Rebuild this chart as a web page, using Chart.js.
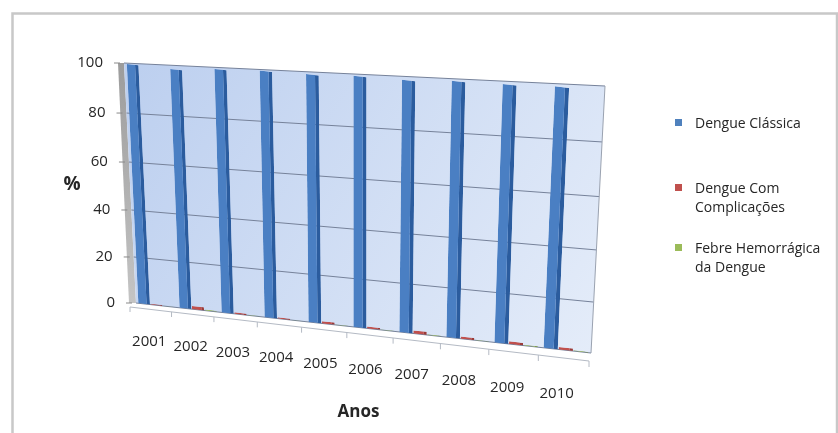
<!DOCTYPE html>
<html>
<head>
<meta charset="utf-8">
<script src="https://cdn.jsdelivr.net/npm/chart.js@4.4.1/dist/chart.umd.min.js"></script>
<style>
  html, body { margin: 0; padding: 0; background: #ffffff; }
  canvas { display: block; }
</style>
</head>
<body>
<canvas id="grafico" width="838" height="433"></canvas>
<script>
// Distribuição percentual dos casos de dengue por forma clínica, 2001-2010
const anos = ['2001', '2002', '2003', '2004', '2005', '2006', '2007', '2008', '2009', '2010'];
const dengueClassica = [99.5, 98.3, 99.2, 99.4, 98.9, 99.1, 98.5, 99.0, 98.7, 98.8];
const dengueComplicacoes = [0.4, 1.3, 0.6, 0.5, 0.9, 0.7, 1.2, 0.8, 1.0, 0.9];
const febreHemorragica = [0.1, 0.4, 0.2, 0.1, 0.2, 0.2, 0.3, 0.2, 0.3, 0.3];
const yTicks = [0, 20, 40, 60, 80, 100];
const nomesSeries = ['Dengue Clássica', 'Dengue Com Complicações', 'Febre Hemorrágica da Dengue'];
const legendaLinhas = [['Dengue Clássica'], ['Dengue Com', 'Complicações'], ['Febre Hemorrágica', 'da Dengue']];
const cores = ['#4A7FC3', '#C0504D', '#9BBB59'];

// Parede de fundo em perspectiva (cantos: sup. esq., sup. dir., inf. dir., inf. esq.)
const PAREDE = [[124, 63], [605, 86], [591, 353], [136, 303]];

function homografia(q) {
  const [x0, y0] = q[0], [x1, y1] = q[1], [x2, y2] = q[2], [x3, y3] = q[3];
  const dx1 = x1 - x2, dx2 = x3 - x2, dy1 = y1 - y2, dy2 = y3 - y2;
  const sx = x0 - x1 + x2 - x3, sy = y0 - y1 + y2 - y3;
  const den = dx1 * dy2 - dx2 * dy1;
  const g = (sx * dy2 - dx2 * sy) / den;
  const h = (dx1 * sy - sx * dy1) / den;
  const a = x1 - x0 + g * x1, b = x3 - x0 + h * x3, c = x0;
  const d = y1 - y0 + g * y1, e = y3 - y0 + h * y3, f = y0;
  return (u, v) => {
    const w = g * u + h * v + 1;
    return { x: (a * u + b * v + c) / w, y: (d * u + e * v + f) / w };
  };
}
const H = homografia(PAREDE);

function projetor(chart) {
  const ca = chart.chartArea;
  return (x, y) => H((x - ca.left) / (ca.right - ca.left), (y - ca.top) / (ca.bottom - ca.top));
}

const fonteEixo = '15px "Open Sans", "Liberation Sans", sans-serif';
const corTexto = '#262626';

const perspectiva = {
  id: 'perspectiva',
  beforeDraw(chart) {
    const ctx = chart.ctx;
    ctx.save();
    ctx.fillStyle = '#ffffff';
    ctx.fillRect(0, 0, chart.width, chart.height);
    ctx.strokeStyle = '#c8c8c8';
    ctx.lineWidth = 2.5;
    ctx.strokeRect(12.5, 13.5, 824.5, 440);
    ctx.restore();
  },
  beforeDatasetsDraw(chart) {
    const ctx = chart.ctx;
    const ca = chart.chartArea;
    const P = projetor(chart);
    const xs = chart.scales.x, ys = chart.scales.y;
    const tl = P(ca.left, ca.top), tr = P(ca.right, ca.top);
    const br = P(ca.right, ca.bottom), bl = P(ca.left, ca.bottom);

    ctx.save();
    // face lateral da parede
    const gLat = ctx.createLinearGradient(0, tl.y, 0, bl.y);
    gLat.addColorStop(0, '#9c9c9c');
    gLat.addColorStop(1, '#c4c4c4');
    ctx.fillStyle = gLat;
    ctx.beginPath();
    ctx.moveTo(tl.x - 6, tl.y);
    ctx.lineTo(tl.x, tl.y);
    ctx.lineTo(bl.x, bl.y);
    ctx.lineTo(bl.x - 7, bl.y);
    ctx.closePath();
    ctx.fill();

    // parede de fundo
    const gPar = ctx.createLinearGradient(tl.x, tl.y, br.x, br.y);
    gPar.addColorStop(0, '#bccfef');
    gPar.addColorStop(1, '#e4ecf9');
    ctx.fillStyle = gPar;
    ctx.beginPath();
    ctx.moveTo(tl.x, tl.y);
    ctx.lineTo(tr.x, tr.y);
    ctx.lineTo(br.x, br.y);
    ctx.lineTo(bl.x, bl.y);
    ctx.closePath();
    ctx.fill();

    // linhas de grade
    ctx.strokeStyle = '#76829a';
    ctx.lineWidth = 1;
    ys.ticks.forEach(t => {
      const y = ys.getPixelForValue(t.value);
      const a = P(ca.left, y), b = P(ca.right, y);
      ctx.beginPath();
      ctx.moveTo(a.x, a.y);
      ctx.lineTo(b.x, b.y);
      ctx.stroke();
    });
    ctx.strokeStyle = '#9aa2b0';
    ctx.beginPath();
    ctx.moveTo(tr.x, tr.y);
    ctx.lineTo(br.x, br.y);
    ctx.stroke();

    // borda frontal do piso
    ctx.strokeStyle = '#b4bac4';
    ctx.beginPath();
    ctx.moveTo(bl.x - 6, bl.y + 4);
    ctx.lineTo(br.x - 2, br.y + 8);
    ctx.stroke();
    const n = anos.length;
    const larg = (ca.right - ca.left) / n;
    for (let i = 0; i <= n; i++) {
      const p = P(ca.left + i * larg, ca.bottom);
      const k = i / n;
      ctx.beginPath();
      ctx.moveTo(p.x - 6 + 4 * k, p.y + 4 + 4 * k);
      ctx.lineTo(p.x - 6 + 4 * k, p.y + 9 + 5 * k);
      ctx.stroke();
    }

    // rótulos do eixo Y com marcas
    ctx.font = fonteEixo;
    ctx.fillStyle = corTexto;
    ctx.textAlign = 'right';
    ctx.textBaseline = 'middle';
    ctx.strokeStyle = '#8a8a8a';
    ys.ticks.forEach(t => {
      const y = ys.getPixelForValue(t.value);
      const p = P(ca.left, y);
      ctx.fillText(String(t.value), p.x - 21, p.y);
      ctx.beginPath();
      ctx.moveTo(p.x - 10, p.y);
      ctx.lineTo(p.x - 4, p.y);
      ctx.stroke();
    });

    // rótulos do eixo X (anos) ao longo do piso
    ctx.textAlign = 'center';
    anos.forEach((ano, i) => {
      const xf = xs.getPixelForValue(i) - 0.2 * larg;
      const u = (xf - ca.left) / (ca.right - ca.left);
      const p = P(xf, ca.bottom);
      ctx.fillText(ano, p.x + 1, p.y + 37 + 8 * u);
    });

    // barras desenhadas pelos próprios elementos do Chart.js, em perspectiva
    chart.data.datasets.forEach((ds, di) => {
      const meta = chart.getDatasetMeta(di);
      if (meta.hidden) return;
      meta.data.forEach(el => {
        const x0 = el.x;
        const p0 = P(x0, ca.bottom), p1 = P(x0 + 1, ca.bottom), p2 = P(x0, ca.top);
        const hgt = ca.top - ca.bottom;
        const a = p1.x - p0.x, b = p1.y - p0.y;
        const c = (p2.x - p0.x) / hgt, d = (p2.y - p0.y) / hgt;
        const e = p0.x - a * x0 - c * ca.bottom;
        const f = p0.y - b * x0 - d * ca.bottom;
        ctx.save();
        ctx.setTransform(a, b, c, d, e, f);
        el.draw(ctx);
        ctx.restore();
      });
    });
    ctx.restore();
    return false;
  },
  afterDraw(chart) {
    const ctx = chart.ctx;
    ctx.save();
    // título do eixo Y
    ctx.fillStyle = '#262626';
    ctx.font = 'bold 19px "Open Sans", "Liberation Sans", sans-serif';
    ctx.textAlign = 'center';
    ctx.textBaseline = 'middle';
    ctx.fillText('%', 72, 185);

    // legenda
    const topos = [124, 189, 249];
    ctx.font = '14px "Open Sans", "Liberation Sans", sans-serif';
    ctx.textAlign = 'left';
    chart.data.datasets.forEach((ds, i) => {
      const y = topos[i];
      ctx.fillStyle = ds.legendColor;
      ctx.fillRect(675, y - 5, 7, 7);
      ctx.fillStyle = corTexto;
      legendaLinhas[i].forEach((linha, j) => ctx.fillText(linha, 695, y + j * 19.5));
    });
    ctx.restore();
  }
};

new Chart(document.getElementById('grafico'), {
  type: 'bar',
  data: {
    labels: anos,
    datasets: [
      { label: nomesSeries[0], data: dengueClassica, backgroundColor: cores[0], legendColor: '#4F81BD',
        borderColor: '#2B5C9E', borderWidth: { left: 0, right: 4, top: 0, bottom: 0 }, borderSkipped: false },
      { label: nomesSeries[1], data: dengueComplicacoes, backgroundColor: cores[1], legendColor: cores[1],
        borderColor: '#9c3b38', borderWidth: { left: 0, right: 3, top: 0, bottom: 0 }, borderSkipped: false },
      { label: nomesSeries[2], data: febreHemorragica, backgroundColor: cores[2], legendColor: cores[2],
        borderColor: '#7c9944', borderWidth: { left: 0, right: 3, top: 0, bottom: 0 }, borderSkipped: false }
    ]
  },
  options: {
    responsive: false,
    animation: false,
    devicePixelRatio: 1,
    categoryPercentage: 0.9,
    barPercentage: 0.95,
    layout: { padding: { left: 0, top: 63, right: 240, bottom: 11 } },
    plugins: { legend: { display: false }, tooltip: { enabled: false } },
    scales: {
      x: {
        grid: { display: false },
        border: { display: false },
        ticks: { display: false },
        title: {
          display: true, text: 'Anos', color: '#262626',
          font: { family: '"Open Sans", "Liberation Sans", sans-serif', size: 17, weight: 'bold' },
          padding: { top: 0, bottom: 0 }
        },
        afterFit: s => { s.height = 119; }
      },
      y: {
        min: 0, max: 100,
        grid: { display: false },
        border: { display: false },
        ticks: { display: false, stepSize: 20 },
        afterBuildTicks: s => { s.ticks = yTicks.map(v => ({ value: v })); },
        afterFit: s => { s.width = 119; }
      }
    }
  },
  plugins: [perspectiva]
});
</script>
</body>
</html>
